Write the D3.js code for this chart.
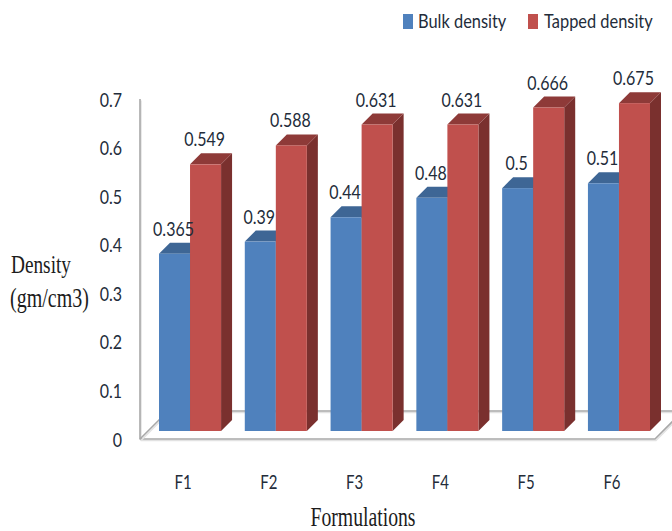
<!DOCTYPE html>
<html>
<head>
<meta charset="utf-8">
<script src="https://cdn.jsdelivr.net/npm/d3@7/dist/d3.min.js"></script>
<style>
  html, body { margin: 0; padding: 0; background: #fff; }
  svg { display: block; }
  .sans { font-family: Lato, "Open Sans", sans-serif; fill: #232c3a; }
  .serif { font-family: "Liberation Serif", serif; fill: #1c1c1c; }
</style>
</head>
<body>
<svg id="chart" width="672" height="531"></svg>
<script>
// Density measurements per formulation
const formulations = ["F1", "F2", "F3", "F4", "F5", "F6"];
const bulkDensity = [0.365, 0.39, 0.44, 0.48, 0.5, 0.51];
const tappedDensity = [0.549, 0.588, 0.631, 0.631, 0.666, 0.675];
const seriesNames = ["Bulk density", "Tapped density"];
const yTicks = [0, 0.1, 0.2, 0.3, 0.4, 0.5, 0.6, 0.7];

const palette = {
  "Bulk density": { front: "#4f81bd", top: "#3e6695", side: "#2f4f75" },
  "Tapped density": { front: "#c0504d", top: "#8e3a38", side: "#7a302e" }
};

const svg = d3.select("#chart");
const depth = 11;      // oblique offset of the 3D extrusion
const wallDrop = 8;    // front floor edge sits this far below the bar bases
const stretch = 1.22;  // tall, condensed lettering
const serifStretch = 1.35;

const y = d3.scaleLinear().domain([0, 0.7]).range([431, 91]);
const x0 = d3.scaleBand().domain(formulations).range([159, 650]).paddingInner(0.2765);
const x1 = d3.scaleBand().domain(seriesNames).range([0, x0.bandwidth()]);

// Floor and left wall edges
const frame = svg.append("g").attr("fill", "none").attr("stroke-linejoin", "round");
const floorFrontY = y(0) + wallDrop;
const floorBackY = floorFrontY - 28;
const leftX = 140;
const framePaths = [
  [[leftX, y(0.7) + wallDrop], [leftX, floorFrontY], [655, floorFrontY], [683, floorBackY]],
  [[leftX, floorFrontY], [leftX + 28, floorBackY], [672, floorBackY]]
];
const line = d3.line();
framePaths.forEach(p => {
  frame.append("path").attr("d", line(p.map(d => [d[0] + 1, d[1] + 1.5]))).attr("stroke", "#e2e2e2").attr("stroke-width", 1.5);
  frame.append("path").attr("d", line(p)).attr("stroke", "#a8a8a8").attr("stroke-width", 1.6);
});

// Extruded bars, drawn left to right so nearer faces cover earlier ones
const rows = formulations.map((f, i) => ({
  f,
  values: [
    { name: seriesNames[0], v: bulkDensity[i] },
    { name: seriesNames[1], v: tappedDensity[i] }
  ]
}));

const bars = svg.append("g");
rows.forEach(row => {
  row.values.forEach(d => {
    const g = bars.append("g");
    const c = palette[d.name];
    const l = x0(row.f) + x1(d.name);
    const r = l + x1.bandwidth();
    const t = y(d.v);
    const b = y(0);
    g.append("polygon")
      .attr("points", [[r, t], [r + depth, t - depth], [r + depth, b - depth], [r, b]].join(" "))
      .attr("fill", c.side);
    g.append("polygon")
      .attr("points", [[l, t], [l + depth, t - depth], [r + depth, t - depth], [r, t]].join(" "))
      .attr("fill", c.top);
    g.append("rect")
      .attr("x", l).attr("y", t)
      .attr("width", x1.bandwidth()).attr("height", b - t)
      .attr("fill", c.front);
  });
});

// Helper for vertically stretched text anchored at its baseline
function label(cls, size, sy, px, py, anchor, text) {
  return svg.append("text")
    .attr("class", cls)
    .attr("font-size", size)
    .attr("text-anchor", anchor)
    .attr("transform", `translate(${px},${py}) scale(1,${sy})`)
    .text(text);
}

// Value labels above each bar
rows.forEach(row => {
  row.values.forEach(d => {
    const cx = x0(row.f) + x1(d.name) + x1.bandwidth() / 2 - 1;
    label("sans", 16, stretch, cx, y(d.v) - 18, "middle", String(d.v));
  });
});

// Value axis, offset to the front edge of the floor
const axis = d3.axisLeft(y).tickValues(yTicks).tickSize(0).tickPadding(0).tickFormat(d3.format("~g"));
const axisG = svg.append("g").attr("transform", `translate(122,${wallDrop})`).call(axis);
axisG.select(".domain").remove();
axisG.selectAll("text")
  .attr("class", "sans")
  .attr("font-size", 16)
  .attr("x", 0)
  .attr("dy", null)
  .attr("y", 0)
  .attr("transform", `translate(0,7) scale(1,${stretch})`);

// Category labels
formulations.forEach(f => {
  label("sans", 15, stretch, x0(f) + x0.bandwidth() / 2 - 7, 489, "middle", f);
});

// Axis titles
label("serif", 19.3, serifStretch, 11, 273, "start", "Density");
label("serif", 20, serifStretch, 10, 307, "start", "(gm/cm3)");
label("serif", 19.7, serifStretch, 363, 526, "middle", "Formulations");

// Legend
const legendItems = [
  { name: seriesNames[0], sx: 403, tx: 418 },
  { name: seriesNames[1], sx: 528, tx: 544 }
];
legendItems.forEach(it => {
  svg.append("rect")
    .attr("x", it.sx).attr("y", 14).attr("width", 10).attr("height", 15)
    .attr("fill", palette[it.name].front);
  label("sans", 16.4, stretch, it.tx, 28, "start", it.name);
});
</script>
</body>
</html>
